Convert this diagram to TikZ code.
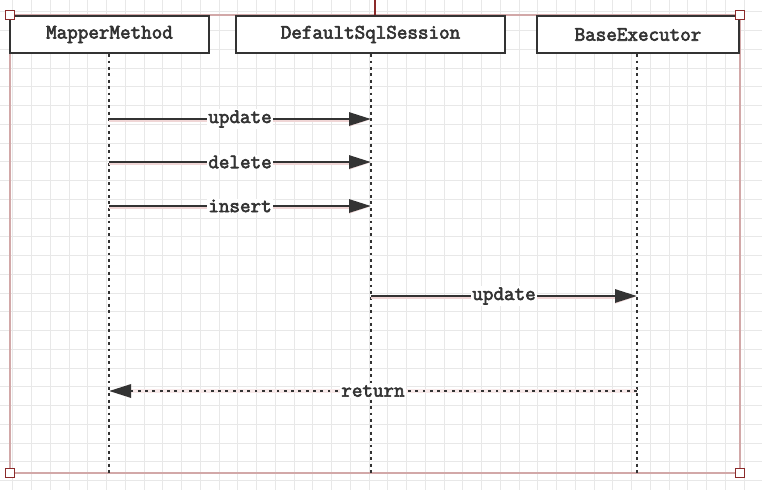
\documentclass[tikz,border=0pt]{standalone}
\usepackage{fontspec}
\newfontfamily\courfont{Latin Modern Mono}[FakeBold=3]
\usetikzlibrary{arrows.meta}
\definecolor{gridc}{HTML}{E8E8E8}
\definecolor{framec}{HTML}{D2A8A8}
\definecolor{handlec}{HTML}{8B2A2A}
\definecolor{inkc}{HTML}{333333}
\definecolor{haloc}{HTML}{F0D6D6}
\tikzset{
  actor/.style={draw=inkc, line width=2.2pt, fill=white, minimum height=37pt, inner sep=0pt,
    font=\courfont\fontsize{20.5}{22}\selectfont, text=inkc},
  lifeline/.style={draw=inkc, line width=2.8pt, dash pattern=on 2.8pt off 3.6pt},
  msg/.style={draw=inkc, line width=2.8pt, preaction={draw=haloc, line width=4.2pt, transform canvas={yshift=-0.6pt}},
    -{Triangle[length=22pt,width=13pt]}},
  retmsg/.style={draw=inkc, line width=2.8pt, dash pattern=on 2.8pt off 4.5pt,
    preaction={draw=haloc!50, line width=4pt, solid},
    -{Triangle[length=22pt,width=13pt]}},
  lbl/.style={fill=white, inner sep=1pt, font=\courfont\fontsize{20.5}{22}\selectfont, text=inkc},
  handle/.style={draw=handlec, line width=1.3pt, fill=white, minimum size=9.5pt, inner sep=0pt}
}
\begin{document}
\begin{tikzpicture}[x=1pt,y=-1pt]
\useasboundingbox (0,0) rectangle (762,490);
\fill[white] (0,0) rectangle (762,490);
% grid
\foreach \i in {0,...,41} {
  \draw[gridc, line width=1pt] ({12.9+18.75*\i},0) -- ({12.9+18.75*\i},490);
}
\foreach \j in {0,...,26} {
  \draw[gridc, line width=1pt] (0,{-7+18.75*\j}) -- (762,{-7+18.75*\j});
}
% frame
\draw[framec, line width=1.3pt] (10,15) rectangle (740,473);
\coordinate (topmid) at (375,15);
\coordinate (topedge) at (375,0);
\draw[handlec, line width=1.3pt] (topmid) -- (topedge);
% actors
\node[actor, minimum width=199pt] (mm) at (109.5,34.5) {MapperMethod};
\node[actor, minimum width=269pt] (ds) at (370.5,34.5) {DefaultSqlSession};
\node[actor, minimum width=202pt] (be) at (638,34.5) {BaseExecutor};
% lifeline ends
\coordinate (mmend) at (109,473);
\coordinate (dsend) at (371,473);
\coordinate (beend) at (637,473);
\draw[lifeline] (mm.south -| mmend) -- (mmend);
\draw[lifeline] (ds.south -| dsend) -- (dsend);
\draw[lifeline] (be.south -| beend) -- (beend);
% message points
\coordinate (a1) at (109,119); \coordinate (b1) at (371,119);
\coordinate (a2) at (109,162); \coordinate (b2) at (371,162);
\coordinate (a3) at (109,206); \coordinate (b3) at (371,206);
\coordinate (a4) at (371,296); \coordinate (b4) at (637,296);
\coordinate (a5) at (637,391); \coordinate (b5) at (109,391);
\draw[msg] (a1) -- node[lbl] (l1) {update} (b1);
\draw[msg] (a2) -- node[lbl] (l2) {delete} (b2);
\draw[msg] (a3) -- node[lbl] (l3) {insert} (b3);
\draw[msg] (a4) -- node[lbl, pos=0.5] (l4) {update} (b4);
\draw[retmsg] (a5) -- node[lbl] (l5) {return} (b5);
% corner handles
\node[handle] (h1) at (10,15) {};
\node[handle] (h2) at (740,15) {};
\node[handle] (h3) at (10,473) {};
\node[handle] (h4) at (740,473) {};
\end{tikzpicture}
\end{document}
